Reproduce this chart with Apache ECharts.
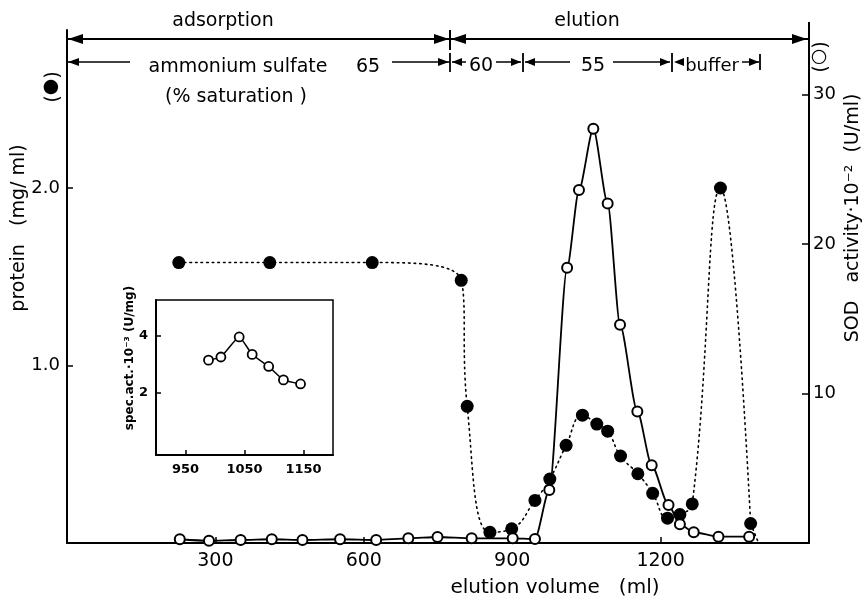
<!DOCTYPE html>
<html>
<head>
<meta charset="utf-8">
<script src="https://cdn.jsdelivr.net/npm/echarts@6/dist/echarts.min.js"></script>
<style>html,body{margin:0;padding:0;background:#fff}#c{width:867px;height:602px}</style>
</head>
<body>
<div id="c"></div>
<script>
// ---- data ----
const proteinX = [226, 410, 617, 797, 809, 855, 899, 946, 976, 1009, 1042, 1071, 1093, 1119, 1154, 1184, 1214, 1239, 1264, 1321, 1382];
const proteinY = [1.58, 1.58, 1.58, 1.48, 0.77, 0.06, 0.08, 0.24, 0.36, 0.55, 0.72, 0.67, 0.63, 0.49, 0.39, 0.28, 0.14, 0.16, 0.22, 2.00, 0.11];
const proteinTailX = [1382, 1398];
const proteinTailY = [0.11, 0.0];
const sodX = [228, 287, 351, 414, 476, 552, 625, 690, 749, 818, 901, 946, 975, 1011, 1035, 1064, 1093, 1118, 1153, 1182, 1216, 1239, 1267, 1317, 1379];
const sodY = [0.25, 0.15, 0.2, 0.25, 0.2, 0.25, 0.2, 0.31, 0.4, 0.31, 0.31, 0.27, 3.55, 18.4, 23.6, 27.7, 22.7, 14.6, 8.8, 5.2, 2.54, 1.25, 0.72, 0.42, 0.42];
const insetX = [989, 1010, 1041, 1063, 1091, 1116, 1145];
const insetY = [3.15, 3.26, 3.96, 3.35, 2.93, 2.46, 2.32];
const xTicks = [300, 600, 900, 1200];
const leftTicks = [1.0, 2.0];
const rightTicks = [10, 20, 30];
const insetXTicks = [950, 1050, 1150];
const insetYTicks = [2, 4];

const FF = '"DejaVu Sans", "Liberation Sans", sans-serif';
const K = '#000';

function pairs(xs, ys) { return xs.map((x, i) => [x, ys[i]]); }

function arrowL(x, y, len, h) { return { type: 'polygon', z: 100, shape: { points: [[x, y], [x + len, y - h], [x + len, y + h]] }, style: { fill: K } }; }
function arrowR(x, y, len, h) { return { type: 'polygon', z: 100, shape: { points: [[x, y], [x - len, y - h], [x - len, y + h]] }, style: { fill: K } }; }
function hline(x1, x2, y, w) { return { type: 'line', z: 100, shape: { x1: x1, y1: y, x2: x2, y2: y }, style: { stroke: K, lineWidth: w || 1.5 } }; }
function vline(x, y1, y2, w) { return { type: 'line', z: 100, shape: { x1: x, y1: y1, x2: x, y2: y2 }, style: { stroke: K, lineWidth: w || 1.5 } }; }
function txt(s, x, y, size, opts) {
  opts = opts || {};
  return { type: 'text', z: 100, x: x, y: y, rotation: opts.rot || 0,
    style: { text: s, fill: K, fontSize: size, fontFamily: FF, fontWeight: opts.bold ? 'bold' : 'normal', align: opts.align || 'center', verticalAlign: 'middle' } };
}

const plain = v => String(v);
const axisBase = (extra) => Object.assign({ type: 'value', splitLine: { show: false } }, extra);

const chart = echarts.init(document.getElementById('c'), null, { renderer: 'canvas' });
const option = {
  animation: false,
  backgroundColor: '#fff',
  grid: [
    { left: 67, right: 58, top: 30, bottom: 59, show: false },
    { left: 156, top: 300, width: 177, height: 155, show: true, borderColor: K, borderWidth: 1.5, backgroundColor: '#fff' }
  ],
  xAxis: [
    axisBase({ gridIndex: 0, min: 0, max: 1500,
      axisLine: { show: true, onZero: false, lineStyle: { color: K, width: 2 } },
      axisTick: { show: true, inside: true, length: 6, customValues: xTicks, lineStyle: { color: K, width: 1.5 } },
      axisLabel: { customValues: xTicks, color: K, fontSize: 19, fontFamily: FF, margin: 9, formatter: plain } }),
    axisBase({ gridIndex: 1, min: 900, max: 1200,
      axisLine: { show: true, onZero: false, lineStyle: { color: K, width: 2 } },
      axisTick: { show: true, inside: true, length: 5, customValues: insetXTicks, lineStyle: { color: K, width: 1.5 } },
      axisLabel: { customValues: insetXTicks, color: K, fontSize: 13, fontWeight: 'bold', fontFamily: FF, margin: 8, formatter: plain } })
  ],
  yAxis: [
    axisBase({ gridIndex: 0, position: 'left', min: 0, max: 2.89,
      axisLine: { show: true, onZero: false, lineStyle: { color: K, width: 2 } },
      axisTick: { show: true, inside: true, length: 6, customValues: leftTicks, lineStyle: { color: K, width: 1.5 } },
      axisLabel: { customValues: leftTicks, color: K, fontSize: 18, fontFamily: FF, margin: 7, formatter: v => v.toFixed(1) } }),
    axisBase({ gridIndex: 0, position: 'right', min: 0, max: 34.3,
      axisLine: { show: true, onZero: false, lineStyle: { color: K, width: 2 } },
      axisTick: { show: true, inside: true, length: 7, customValues: rightTicks, lineStyle: { color: K, width: 1.5 } },
      axisLabel: { customValues: rightTicks, color: K, fontSize: 18, fontFamily: FF, margin: 4, formatter: plain } }),
    axisBase({ gridIndex: 1, min: -0.16, max: 5.25,
      axisLine: { show: true, onZero: false, lineStyle: { color: K, width: 2 } },
      axisTick: { show: true, inside: true, length: 5, customValues: insetYTicks, lineStyle: { color: K, width: 1.5 } },
      axisLabel: { customValues: insetYTicks, color: K, fontSize: 13, fontWeight: 'bold', fontFamily: FF, margin: 8, formatter: plain } })
  ],
  series: [
    { type: 'line', xAxisIndex: 0, yAxisIndex: 0, data: pairs(proteinX, proteinY),
      symbol: 'circle', symbolSize: 13, itemStyle: { color: K },
      lineStyle: { color: K, width: 1.6, type: [1.6, 4], cap: 'round' },
      smooth: 0.45, z: 3 },
    { type: 'line', xAxisIndex: 0, yAxisIndex: 0, data: pairs(proteinTailX, proteinTailY),
      symbol: 'none', lineStyle: { color: K, width: 1.6, type: [1.6, 4], cap: 'round' }, z: 3 },
    { type: 'line', xAxisIndex: 0, yAxisIndex: 1, data: pairs(sodX, sodY),
      symbol: 'circle', symbolSize: 10, itemStyle: { color: '#fff', borderColor: K, borderWidth: 2 },
      lineStyle: { color: K, width: 1.8 }, smooth: 0.25, smoothMonotone: 'x', z: 4 },
    { type: 'line', xAxisIndex: 1, yAxisIndex: 2, data: pairs(insetX, insetY),
      symbol: 'circle', symbolSize: 9, itemStyle: { color: '#fff', borderColor: K, borderWidth: 1.8 },
      lineStyle: { color: K, width: 1.5 }, smooth: 0.15, z: 6 }
  ],
  graphic: [
    // row 1: adsorption / elution
    txt('adsorption', 223, 21, 19),
    txt('elution', 587, 21, 19),
    hline(67, 808, 39, 2),
    arrowL(68, 39, 15, 5), arrowR(449, 39, 15, 5), arrowL(451, 39, 15, 5), arrowR(807, 39, 15, 5),
    vline(450, 30, 50, 2),
    vline(809, 22, 32, 2),
    // row 2: ammonium sulfate
    hline(67, 130, 62), arrowL(68, 62, 11, 4),
    txt('ammonium sulfate', 238, 67, 19),
    txt('65', 368, 67, 19),
    hline(392, 450, 62), arrowR(449, 62, 11, 4),
    vline(450, 53, 72, 1.8),
    arrowL(452, 62, 10, 4), hline(452, 466, 62),
    txt('60', 481, 66, 19),
    hline(496, 521, 62), arrowR(521, 62, 10, 4),
    vline(523, 53, 72, 1.8),
    arrowL(525, 62, 10, 4), hline(525, 570, 62),
    txt('55', 593, 66, 19),
    hline(613, 670, 62), arrowR(670, 62, 10, 4),
    vline(672, 53, 72, 1.8),
    arrowL(674, 62, 10, 4),
    txt('buffer', 712, 66, 18),
    hline(742, 759, 62), arrowR(759, 62, 10, 4),
    vline(760, 54, 70, 1.8),
    txt('(% saturation )', 236, 97, 19),
    // symbols
    txt('(●)', 51, 87, 19, { rot: -Math.PI / 2 }),
    txt('(○)', 819, 57, 19, { rot: -Math.PI / 2 }),
    // axis names
    txt('protein   (mg/ ml)', 19, 228, 19, { rot: Math.PI / 2 }),
    txt('SOD   activity·10⁻²  (U/ml)', 853, 218, 19, { rot: Math.PI / 2 }),
    txt('elution volume   (ml)', 555, 588, 20),
    txt('spec.act.·10⁻³ (U/mg)', 130, 358, 12, { rot: Math.PI / 2, bold: true })
  ]
};
chart.setOption(option);
</script>
</body>
</html>
